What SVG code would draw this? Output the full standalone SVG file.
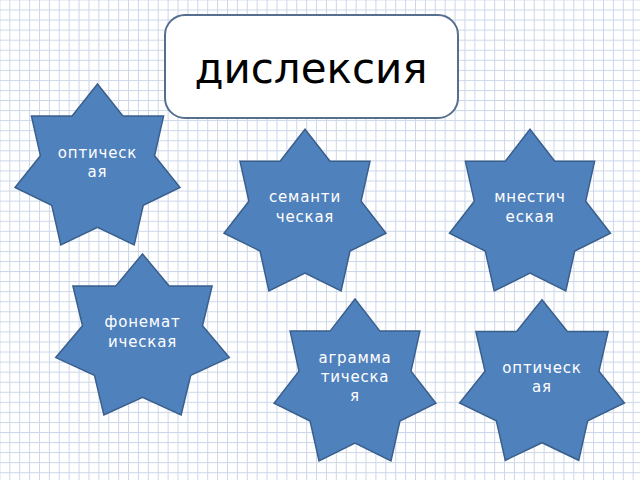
<svg xmlns="http://www.w3.org/2000/svg" width="640" height="480" viewBox="0 0 640 480">
<defs>
<pattern id="gridV" x="9.3" y="0" width="9.895" height="480" patternUnits="userSpaceOnUse">
<rect x="0" y="0" width="1" height="480" fill="#cbd6e9"/>
</pattern>
<pattern id="gridH" x="0" y="9.5" width="640" height="10.06" patternUnits="userSpaceOnUse">
<rect x="0" y="0" width="640" height="1" fill="#cbd6e9"/>
</pattern>
</defs>
<style>
.star { fill: #4f81bd; stroke: #3a5f8c; stroke-width: 1.5; stroke-linejoin: miter; }
.lbl { font-family: "DejaVu Sans", Verdana, sans-serif; font-size: 15px; fill: #ffffff; text-anchor: middle; letter-spacing: 0.8px; }
.title { font-family: "DejaVu Sans", Verdana, sans-serif; font-size: 42px; fill: #000000; text-anchor: middle; }
</style>
<rect x="0" y="0" width="640" height="480" fill="#ffffff"/>
<rect x="0" y="0" width="640" height="480" fill="url(#gridV)"/>
<rect x="0" y="0" width="640" height="480" fill="url(#gridH)"/>

<g id="title">
<rect x="165" y="15" width="293" height="103" rx="20" ry="20" fill="#ffffff" stroke="#566f8f" stroke-width="2"/>
<text class="title" x="311" y="83">дислексия</text>
</g>

<g id="star1">
<polygon class="star" points="97.5,84.0 122.9,115.9 163.6,115.9 154.6,155.7 180.0,187.5 143.3,205.2 134.2,245.0 97.5,227.3 60.8,245.0 51.7,205.2 15.0,187.5 40.4,155.7 31.4,115.9 72.1,115.9"/>
<text class="lbl" x="97.5" y="158">оптическ</text>
<text class="lbl" x="97.5" y="177">ая</text>
</g>

<g id="star2">
<polygon class="star" points="305,129.3 330.0,161.3 370.0,161.3 361.1,201.2 386.0,233.2 350.0,251.0 341.1,290.9 305,273.1 268.9,290.9 260.0,251.0 224.0,233.2 248.9,201.2 240.0,161.3 280.1,161.3"/>
<text class="lbl" x="305" y="202">семанти</text>
<text class="lbl" x="305" y="221.5">ческая</text>
</g>

<g id="star3">
<polygon class="star" points="530,129.3 554.8,161.3 594.6,161.3 585.7,201.2 610.5,233.2 574.7,251.0 565.8,290.9 530,273.1 494.2,290.9 485.3,251.0 449.5,233.2 474.3,201.2 465.4,161.3 505.2,161.3"/>
<text class="lbl" x="530" y="202">мнестич</text>
<text class="lbl" x="530" y="221.5">еская</text>
</g>

<g id="star4">
<polygon class="star" points="142.5,254.0 169.2,285.9 212.1,285.9 202.5,325.7 229.3,357.6 190.7,375.2 181.1,415.0 142.5,397.3 103.9,415.0 94.4,375.2 55.7,357.6 82.5,325.7 72.9,285.9 115.8,285.9"/>
<text class="lbl" x="142.5" y="327">фонемат</text>
<text class="lbl" x="142.5" y="346.5">ическая</text>
</g>

<g id="star5">
<polygon class="star" points="355,299.0 379.9,331.1 419.9,331.1 411.0,371.1 435.9,403.2 399.9,421.0 391.0,461.0 355,443.2 319.0,461.0 310.1,421.0 274.1,403.2 299.0,371.1 290.1,331.1 330.1,331.1"/>
<text class="lbl" x="355" y="362.5">аграмма</text>
<text class="lbl" x="355" y="382">тическа</text>
<text class="lbl" x="355" y="401">я</text>
</g>

<g id="star6">
<polygon class="star" points="542,299.7 567.4,331.5 608.1,331.5 599.0,371.2 624.4,403.0 587.7,420.7 578.7,460.3 542,442.7 505.3,460.3 496.3,420.7 459.6,403.0 485.0,371.2 475.9,331.5 516.6,331.5"/>
<text class="lbl" x="542" y="372.5">оптическ</text>
<text class="lbl" x="542" y="391.5">ая</text>
</g>

<g id="connectors"></g>
</svg>
